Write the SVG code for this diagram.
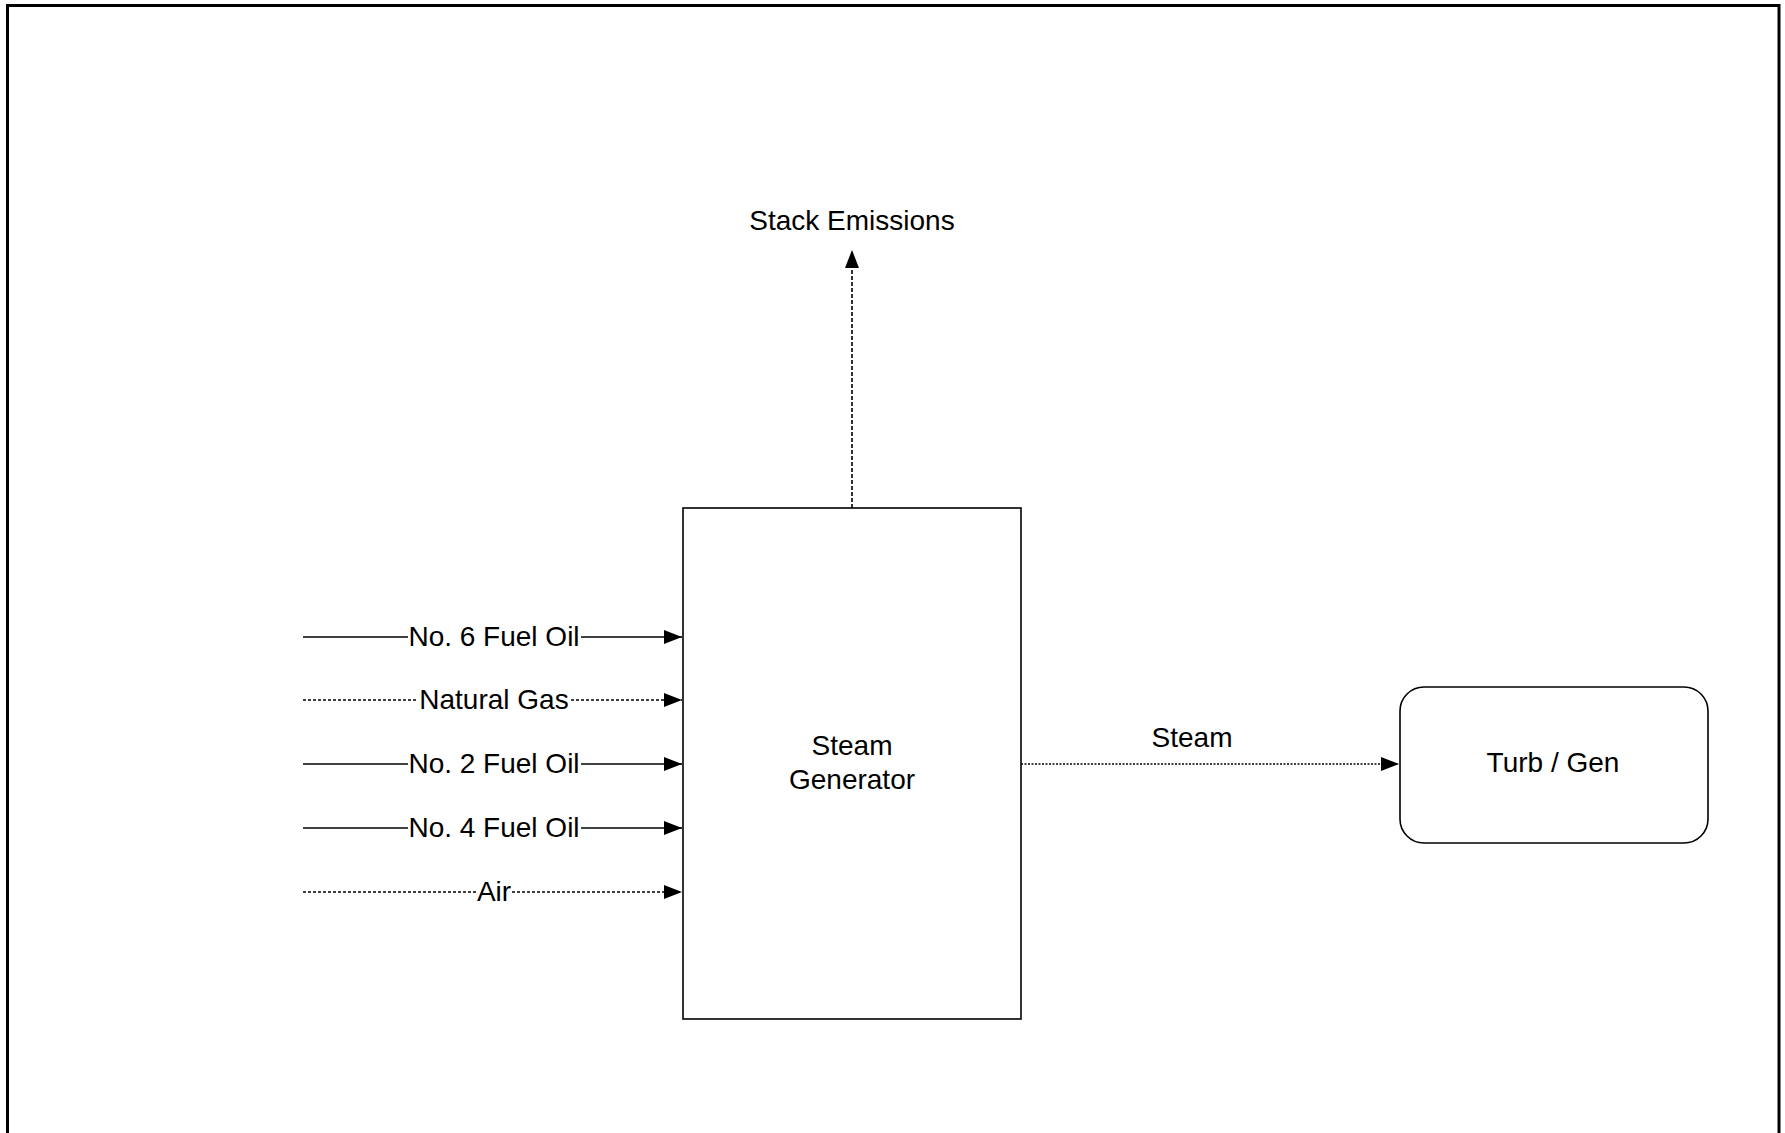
<svg xmlns="http://www.w3.org/2000/svg" width="1785" height="1133" viewBox="0 0 1785 1133">
<style>
text{font-family:"Liberation Sans",Arial,sans-serif;font-size:28px;fill:#000}
.box{fill:#fff;stroke:#000;stroke-width:1.6}
.solid{stroke:#000;stroke-width:1.6;fill:none}
.dot{stroke:#000;stroke-width:1.5;fill:none;stroke-dasharray:3 2}
.fine{stroke:#000;stroke-width:1.4;fill:none;stroke-dasharray:2 1.5}
.dash{stroke:#000;stroke-width:1.6;fill:none;stroke-dasharray:4 2}
</style>
<defs>
<marker id="arr" markerUnits="userSpaceOnUse" markerWidth="18" markerHeight="14" refX="18" refY="7" orient="auto">
<path d="M0,0 L18,7 L0,14 Z" fill="#000"/>
</marker>
</defs>
<rect width="1785" height="1133" fill="#fff"/>
<g id="frame">
<path d="M7.5,1133 V5.5 H1779 V1133" fill="none" stroke="#000" stroke-width="3"/>
</g>
<g id="steam-generator">
<rect class="box" x="683" y="508" width="338" height="511"/>
<text x="852" y="755" text-anchor="middle">Steam</text>
<text x="852" y="789" text-anchor="middle">Generator</text>
</g>
<g id="turb-gen">
<rect class="box" x="1400" y="687" width="308" height="156" rx="24" ry="24"/>
<text x="1553" y="772" text-anchor="middle">Turb / Gen</text>
</g>
<g id="connectors">
<line class="solid" x1="303" y1="637" x2="408" y2="637"/>
<line class="solid" x1="581" y1="637" x2="682" y2="637" marker-end="url(#arr)"/>
<line class="dot" x1="303" y1="700" x2="418" y2="700"/>
<line class="dot" x1="571" y1="700" x2="682" y2="700" marker-end="url(#arr)"/>
<line class="solid" x1="303" y1="764" x2="408" y2="764"/>
<line class="solid" x1="581" y1="764" x2="682" y2="764" marker-end="url(#arr)"/>
<line class="solid" x1="303" y1="828" x2="408" y2="828"/>
<line class="solid" x1="581" y1="828" x2="682" y2="828" marker-end="url(#arr)"/>
<line class="dot" x1="303" y1="892" x2="476" y2="892"/>
<line class="dot" x1="512" y1="892" x2="682" y2="892" marker-end="url(#arr)"/>
<line class="dash" x1="852" y1="508" x2="852" y2="250" marker-end="url(#arr)"/>
<line class="fine" x1="1021" y1="764" x2="1399" y2="764" marker-end="url(#arr)"/>
</g>
<g id="labels">
<text x="494" y="646" text-anchor="middle">No. 6 Fuel Oil</text>
<text x="494" y="709" text-anchor="middle">Natural Gas</text>
<text x="494" y="773" text-anchor="middle">No. 2 Fuel Oil</text>
<text x="494" y="837" text-anchor="middle">No. 4 Fuel Oil</text>
<text x="494" y="901" text-anchor="middle">Air</text>
<text x="852" y="230" text-anchor="middle">Stack Emissions</text>
<text x="1192" y="747" text-anchor="middle">Steam</text>
</g>
</svg>
